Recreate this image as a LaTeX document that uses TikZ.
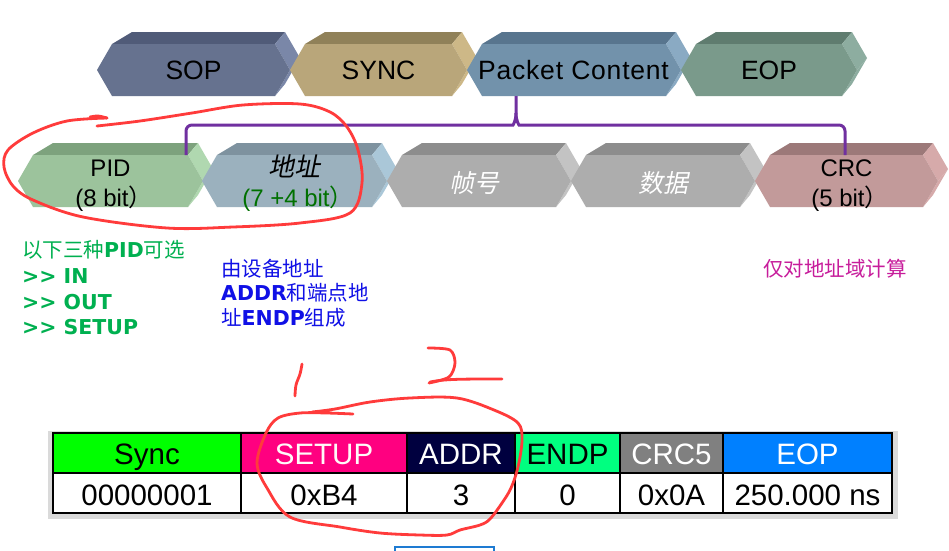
\documentclass[tikz,border=0pt]{standalone}
\usepackage{fontspec}
\setmainfont{Liberation Sans}
\newfontfamily\cjk{Noto Sans CJK SC}
\newfontfamily\cjkit{Noto Sans CJK SC}[FakeSlant=0.2]
\newfontfamily\vfam{DejaVu Sans}
\definecolor{sopF}{HTML}{66728F}\definecolor{sopT}{HTML}{505B78}\definecolor{sopS}{HTML}{7A87A8}
\definecolor{synF}{HTML}{B9A67A}\definecolor{synT}{HTML}{908159}\definecolor{synS}{HTML}{CDB887}
\definecolor{pcF}{HTML}{7292AB}\definecolor{pcT}{HTML}{58758E}\definecolor{pcS}{HTML}{8AAAC3}
\definecolor{eopF}{HTML}{7A9A8B}\definecolor{eopT}{HTML}{5F7C6F}\definecolor{eopS}{HTML}{8DADA0}
\definecolor{pidF}{HTML}{9CC39C}\definecolor{pidT}{HTML}{7DA27D}\definecolor{pidS}{HTML}{B0D8B0}
\definecolor{adrF}{HTML}{9BB1BE}\definecolor{adrT}{HTML}{7E929F}\definecolor{adrS}{HTML}{AAC7D8}
\definecolor{gryF}{HTML}{ADADAD}\definecolor{gryT}{HTML}{8D8D8D}\definecolor{gryS}{HTML}{C3C3C3}
\definecolor{crcF}{HTML}{C29A9A}\definecolor{crcT}{HTML}{9C7979}\definecolor{crcS}{HTML}{D6AAAA}
\definecolor{bracec}{HTML}{7030A0}
\definecolor{txtgreen}{HTML}{00B050}
\definecolor{txtblue}{HTML}{1010E6}
\definecolor{txtpink}{HTML}{C71C9B}
\definecolor{darkgreen}{HTML}{007000}
\definecolor{redink}{HTML}{FF3B3B}
\definecolor{hSync}{HTML}{00FF00}\definecolor{hSetup}{HTML}{FF0080}\definecolor{hAddr}{HTML}{00003F}
\definecolor{hEndp}{HTML}{00FF80}\definecolor{hCrc}{HTML}{808080}\definecolor{hEop}{HTML}{0080FF}
\definecolor{shadowgray}{HTML}{DADADA}
\definecolor{boxblue}{HTML}{1E7BD2}
\newcommand\pblock[7]{%
  \pgfmathsetmacro\pbmid{(#3+#4)/2}%
  \fill[#6] (#1+15,#3) -- (#1+35,#3-12) -- (#2-5,#3-12) -- (#2-15,#3) -- cycle;
  \fill[#7] (#2-15,#3) -- (#2-5,#3-12) -- (#2+10,\pbmid-12) -- (#2,\pbmid) -- cycle;
  \fill[#7] (#2,\pbmid) -- (#2+10,\pbmid-12) -- (#2-5,#4-12) -- (#2-15,#4) -- cycle;
  \fill[#5] (#1,\pbmid) -- (#1+15,#3) -- (#2-15,#3) -- (#2,\pbmid) -- (#2-15,#4) -- (#1+15,#4) -- cycle;
}
\tikzset{
  toplab/.style={anchor=base, inner sep=0pt, font=\fontsize{26.5}{30}\selectfont},
  rowlab/.style={anchor=base, inner sep=0pt, font=\fontsize{24}{28}\selectfont},
  cjklab/.style={anchor=base, inner sep=0pt, font=\cjkit\fontsize{25}{28}\selectfont},
  note/.style={anchor=base west, inner sep=0pt, font=\fontsize{20.5}{25}\selectfont},
  cell/.style={anchor=base, inner sep=0pt, font=\fontsize{29.5}{32}\selectfont},
  bracepath/.style={draw=bracec, line width=3pt, rounded corners=6pt},
  redstroke/.style={draw=redink, line width=2.8pt, line cap=round, line join=round},
}
\begin{document}
\begin{tikzpicture}[x=1pt, y=-1pt]
\useasboundingbox (0,0) rectangle (949,550);
\clip (0,0) rectangle (949,550);
\fill[white] (0,0) rectangle (949,550);
% ---- top row
\pblock{97}{290}{44}{96}{sopF}{sopT}{sopS}
\pblock{290}{467}{44}{96}{synF}{synT}{synS}
\pblock{467}{681}{44}{96}{pcF}{pcT}{pcS}
\pblock{681}{857}{44}{96}{eopF}{eopT}{eopS}
\node[toplab] (sop) at (193.5,79.5) {SOP};
\node[toplab] (sync) at (378.5,79.5) {SYNC};
\node[toplab, font=\addfontfeature{LetterSpace=3}\fontsize{26.5}{30}\selectfont] (pc) at (573.5,79.5) {Packet Content};
\node[toplab] (eop) at (769,79.5) {EOP};
% ---- second row
\pblock{18}{203}{155}{207}{pidF}{pidT}{pidS}
\pblock{202}{387}{155}{207}{adrF}{adrT}{adrS}
\pblock{387}{571}{155}{207}{gryF}{gryT}{gryS}
\pblock{571}{755}{155}{207}{gryF}{gryT}{gryS}
\pblock{755}{938}{155}{207}{crcF}{crcT}{crcS}
\node[rowlab] (pid) at (110.5,176.5) {PID};
\node[rowlab] (pidbits) at (114,206) {(8 bit{\cjk ）}};
\node[cjklab, font=\cjkit\fontsize{26}{28}\selectfont] (addr) at (294.5,176.5) {地址};
\node[rowlab, text=darkgreen] (addrbits) at (298,206) {(7 +4 bit{\cjk ）}};
\node[cjklab, text=white] (frame) at (474,192) {帧号};
\node[cjklab, text=white] (data) at (663,192) {数据};
\node[rowlab] (crc) at (846.5,176.5) {CRC};
\node[rowlab] (crcbits) at (850,206) {(5 bit{\cjk ）}};
% ---- brace
\coordinate (pcb) at (516,96);
\coordinate (bl) at (186,155);
\coordinate (br) at (845,155);
\coordinate (bmid) at (516,125);
\draw[bracepath] (bl) -- (bl |- bmid) -- (507,125) [sharp corners] .. controls (513,125) and (516,121) .. (516,113) -- (pcb);
\draw[bracepath] (br) -- (br |- bmid) -- (525,125) [sharp corners] .. controls (519,125) and (516,121) .. (516,113);
% ---- notes
\node[note, text=txtgreen] (g1) at (22,257) {{\cjk 以下三种}{\vfam\bfseries PID}{\cjk 可选}};
\node[note, text=txtgreen, font=\vfam\bfseries\fontsize{20.5}{25}\selectfont] (g2) at (22,283) {>> IN};
\node[note, text=txtgreen, font=\vfam\bfseries\fontsize{20.5}{25}\selectfont] (g3) at (22,309) {>> OUT};
\node[note, text=txtgreen, font=\vfam\bfseries\fontsize{20.5}{25}\selectfont] (g4) at (22,334) {>> SETUP};
\node[note, text=txtblue] (b1) at (221,276) {\cjk 由设备地址};
\node[note, text=txtblue] (b2) at (221,300) {{\vfam\bfseries ADDR}{\cjk 和端点地}};
\node[note, text=txtblue] (b3) at (221,325) {{\cjk 址}{\vfam\bfseries ENDP}{\cjk 组成}};
\node[note, text=txtpink] (p1) at (763,276) {\cjk 仅对地址域计算};
% ---- table
\fill[shadowgray] (48,431) rectangle (898,519);
\fill[white] (53,433) rectangle (892,513);
\fill[hSync] (53,433) rectangle (241,473);
\fill[hSetup] (241,433) rectangle (407,473);
\fill[hAddr] (407,433) rectangle (515,473);
\fill[hEndp] (515,433) rectangle (620,473);
\fill[hCrc] (620,433) rectangle (723,473);
\fill[hEop] (723,433) rectangle (892,473);
\draw[line width=1.6pt] (53,433) rectangle (892,513);
\draw[line width=1.6pt] (53,473) -- (892,473);
\foreach \xx in {241,407,515,620,723}{\draw[line width=1.6pt] (\xx,433) -- (\xx,513);}
\node[cell] (hs) at (147,464) {Sync};
\node[cell, text=white!90!pink] (hst) at (324,464) {SETUP};
\node[cell, text=white] (had) at (461,464) {ADDR};
\node[cell] (hen) at (567.5,464) {ENDP};
\node[cell, text=white] (hcr) at (671.5,464) {CRC5};
\node[cell, text=white] (heo) at (807.5,464) {EOP};
\node[cell] (ds) at (147,505) {00000001};
\node[cell] (dst) at (324,505) {0xB4};
\node[cell] (dad) at (461,505) {3};
\node[cell] (den) at (567.5,505) {0};
\node[cell] (dcr) at (671.5,505) {0x0A};
\node[cell] (deo) at (807.5,505) {250.000 ns};
% ---- bottom blue box (cut off)
\draw[boxblue, line width=1.2pt] (395,547) rectangle (494,570);
% ---- red annotations
\draw[redstroke] plot[smooth, tension=0.55] coordinates {(90,117) (98,116) (107,118)};
\draw[redstroke] plot[smooth, tension=0.55] coordinates {(107,118) (67,121) (33,133) (8,150) (4,167) (13,186) (33,200) (83,217) (167,228) (233,227) (300,223) (350,213) (362,183) (358,150) (347,127) (330,112) (300,104) (243,105) (192,113) (140,121) (97,126)};
\draw[redstroke] plot[smooth, tension=0.6] coordinates {(302,364) (300,374) (296,385) (295,396)};
\draw[redstroke] plot[smooth, tension=0.5] coordinates {(428,348) (450,350) (455,363) (449,377) (429,383)};
\draw[redstroke] (430,382) .. controls (445,379) and (460,379) .. (502,379);
\draw[redstroke] plot[smooth, tension=0.55] coordinates {(353,414) (327,413) (300,413) (278,418) (266,433) (257,463) (267,488) (290,517) (340,527) (380,533) (420,535) (447,535) (460,530) (480,525) (490,519) (502,503) (511,488) (518,467) (522,440) (518,423) (494,410) (457,398) (410,398) (370,402) (335,409) (312,412)};
\end{tikzpicture}
\end{document}
